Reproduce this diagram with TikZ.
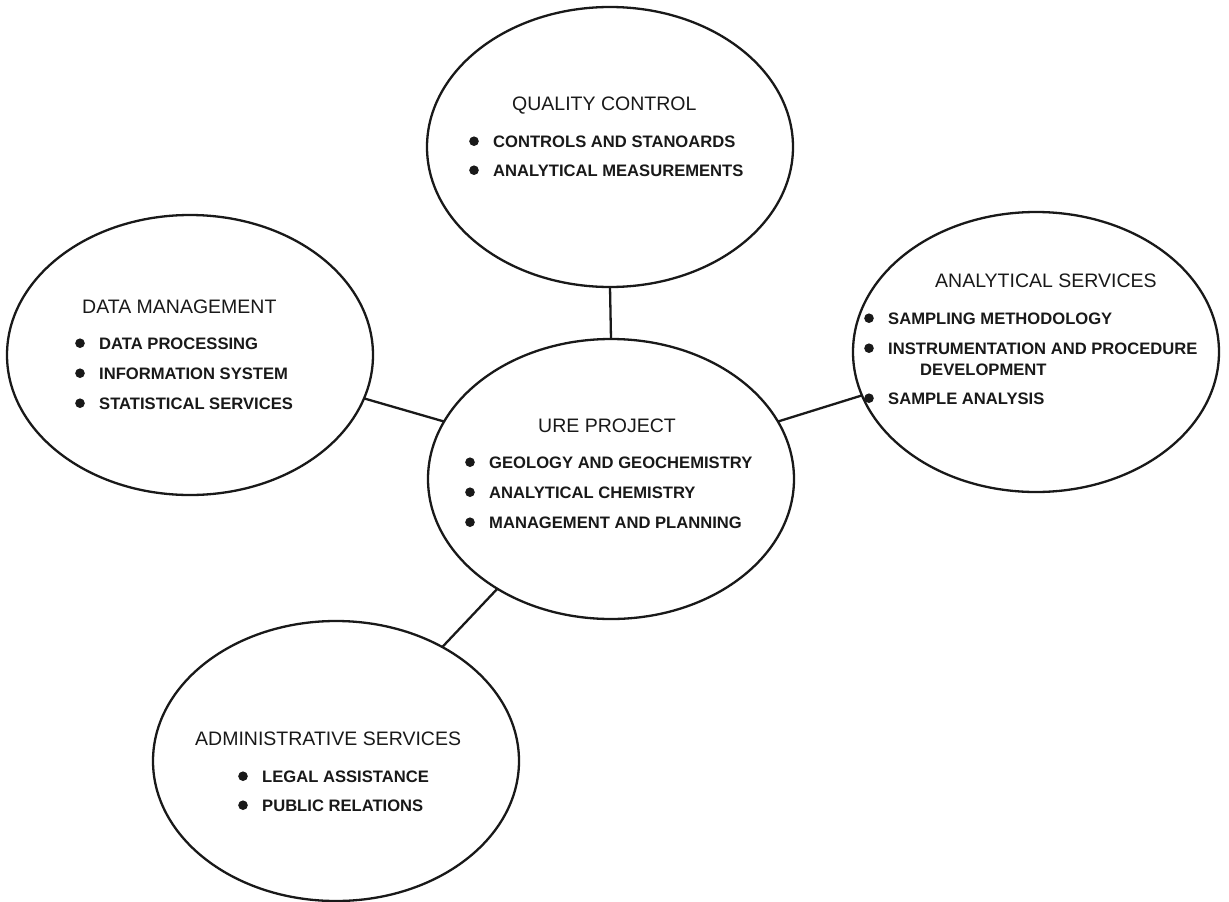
\documentclass[tikz,border=0pt]{standalone}
\usepackage{fontspec}
\setmainfont{Liberation Sans}
\usetikzlibrary{shapes.geometric}
\begin{document}
\begin{tikzpicture}[x=1pt,y=-1pt,
  bubble/.style={draw=black!90, ellipse, minimum width=366pt, minimum height=280pt,
                 inner sep=0pt, outer sep=0pt, line width=2.3pt},
  link/.style={draw=black!90, line width=2.3pt},
  head/.style={anchor=base west, inner sep=0pt, text=black!90,
               font=\fontsize{19.5}{23}\selectfont},
  itm/.style={anchor=base west, inner sep=0pt, text=black!90,
              font=\bfseries\fontsize{16.6}{19}\selectfont},
  dot/.style={fill=black!90}
]
\useasboundingbox (0,0) rectangle (1229,902);
\fill[white] (0,0) rectangle (1229,902);

% the five ellipses
\node[bubble] (qc)  at (610,147) {};
\node[bubble] (dm)  at (190,355) {};
\node[bubble] (ure) at (611,479) {};
\node[bubble] (as)  at (1036,352) {};
\node[bubble] (adm) at (336,761) {};

% connectors from the central project
\draw[link] (qc.south) -- (ure.north);
\draw[link] (dm.-14.2) -- (ure.161.9);
\draw[link] (ure.19.3) -- (as.-166.7);
\draw[link] (ure.224.2) -- (adm.47.1);

% Quality control
\node[head] (qch) at (512,110) {QUALITY CONTROL};
\node[itm] (qc1) at (493,147) {CONTROLS AND STANOARDS};
\node[itm] (qc2) at (493,176) {ANALYTICAL MEASUREMENTS};

% Data management
\node[head] (dmh) at (82,313) {DATA MANAGEMENT};
\node[itm] (dm1) at (99,349) {DATA PROCESSING};
\node[itm] (dm2) at (99,379) {INFORMATION SYSTEM};
\node[itm] (dm3) at (99,409) {STATISTICAL SERVICES};

% URE project
\node[head] (ureh) at (538,432) {URE PROJECT};
\node[itm] (ure1) at (489,468) {GEOLOGY AND GEOCHEMISTRY};
\node[itm] (ure2) at (489,498) {ANALYTICAL CHEMISTRY};
\node[itm] (ure3) at (489,528) {MANAGEMENT AND PLANNING};

% Analytical services
\node[head] (ash) at (935,287) {ANALYTICAL SERVICES};
\node[itm] (as1) at (888,324) {SAMPLING METHODOLOGY};
\node[itm] (as2) at (888,354) {INSTRUMENTATION AND PROCEDURE};
\node[itm] (as2b) at (920,375) {DEVELOPMENT};
\node[itm] (as3) at (888,404) {SAMPLE ANALYSIS};

% Administrative services
\node[head] (admh) at (195,745) {ADMINISTRATIVE SERVICES};
\node[itm] (adm1) at (262,782) {LEGAL ASSISTANCE};
\node[itm] (adm2) at (262,811) {PUBLIC RELATIONS};

% bullets in front of each item
\foreach \n in {qc1,qc2,dm1,dm2,dm3,ure1,ure2,ure3,as1,as2,as3,adm1,adm2}
  \fill[dot] ([shift={(-19pt,5.8pt)}]\n.base west) circle (4.8pt);
\end{tikzpicture}
\end{document}
